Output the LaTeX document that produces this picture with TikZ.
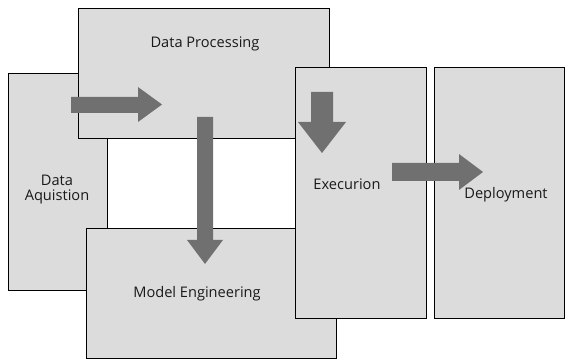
\documentclass[tikz,border=0pt]{standalone}
\usepackage{fontspec}
\setmainfont{Open Sans}
\begin{document}
\begin{tikzpicture}[x=1pt,y=-1pt,
  box/.style={draw=black, fill=boxgray, line width=0.9pt, rectangle, inner sep=0pt, anchor=north west},
  lbl/.style={font=\fontsize{14.6}{14}\selectfont, text=black!90, inner sep=0pt, align=center},
  blockarrow/.style={fill=arrowgray, draw=none}]
\definecolor{boxgray}{HTML}{DCDCDC}
\definecolor{arrowgray}{HTML}{707070}
\useasboundingbox (0,0) rectangle (571,363);
\fill[white] (0,0) rectangle (571,363);
% boxes (back to front)
\node[box, minimum width=99pt, minimum height=217pt] (aq) at (8,73) {};
\node[box, minimum width=251pt, minimum height=130pt] (proc) at (78,8) {};
\node[box, minimum width=250pt, minimum height=130pt] (model) at (86,228) {};
\node[box, minimum width=131pt, minimum height=251pt] (exec) at (295,67) {};
\node[box, minimum width=130pt, minimum height=251pt] (dep) at (434,67) {};
% labels
\node[lbl, anchor=base] (tproc) at (205,48) {Data Processing};
\node[lbl, anchor=base] (taq1) at (57,186) {Data};
\node[lbl, anchor=base] (taq2) at (57,201) {Aquistion};
\node[lbl] (tmodel) at (197,294) {Model Engineering};
\node[lbl] (texec) at (347,184) {Execurion};
\node[lbl] (tdep) at (506,195) {Deployment};
% block arrows
\fill[blockarrow] (71,97) -- (138,97) -- (138,87) -- (162,104.5) -- (138,122) -- (138,113) -- (71,113) -- cycle;
\fill[blockarrow] (197,117) -- (213,117) -- (213,240) -- (223,240) -- (205,264) -- (187,240) -- (197,240) -- cycle;
\fill[blockarrow] (311,92) -- (333,92) -- (333,122) -- (346,122) -- (322,153) -- (298,122) -- (311,122) -- cycle;
\fill[blockarrow] (392,163) -- (459,163) -- (459,154) -- (483,172) -- (459,190) -- (459,181) -- (392,181) -- cycle;
\end{tikzpicture}
\end{document}
